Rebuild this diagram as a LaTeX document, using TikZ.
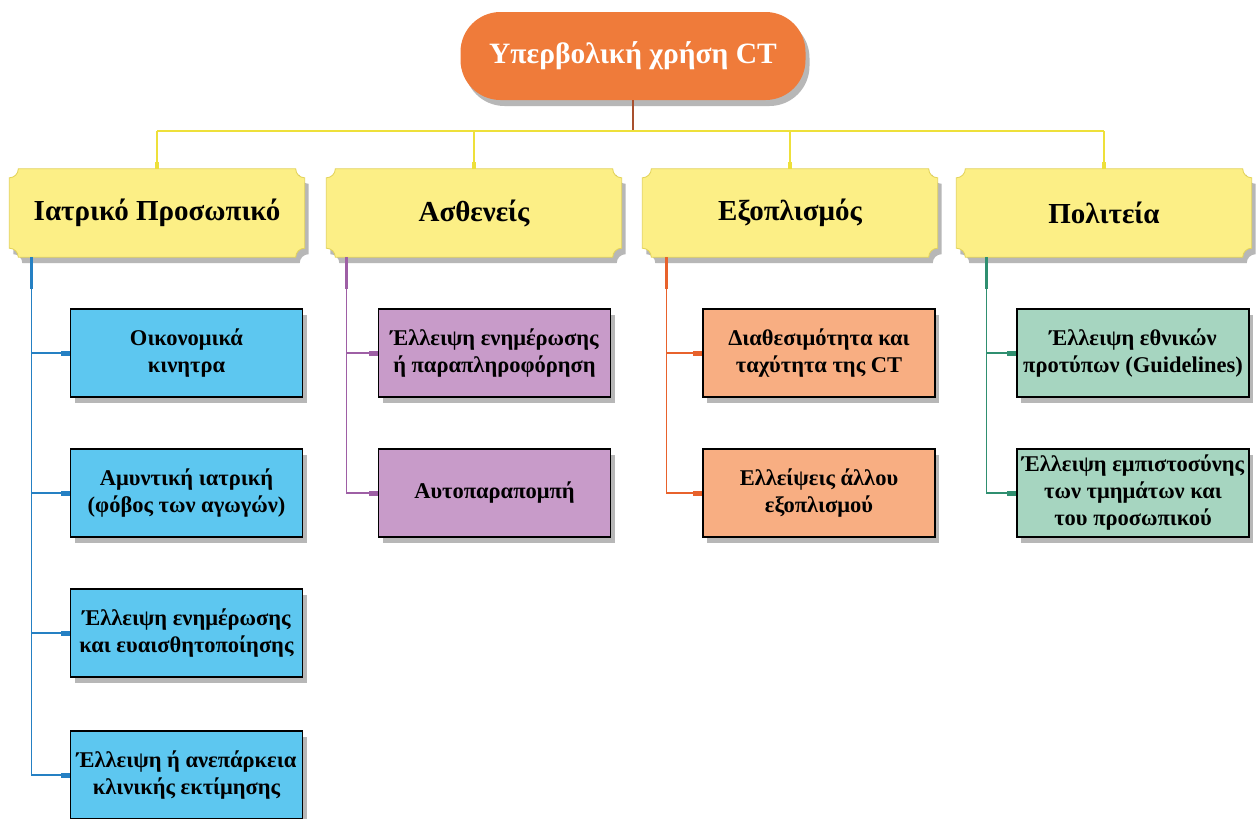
\documentclass[tikz,border=0pt]{standalone}
\usepackage{fontspec}
\setmainfont{Liberation Serif}
\usetikzlibrary{shadows,backgrounds,calc,arrows.meta}
\definecolor{topc}{HTML}{EF7B3A}
\definecolor{hdrc}{HTML}{FCEF86}
\definecolor{hdrb}{HTML}{E3D35A}
\definecolor{busc}{HTML}{EEE03A}
\definecolor{bluec}{HTML}{5DC7F0}
\definecolor{purc}{HTML}{C89BC9}
\definecolor{orc}{HTML}{F8AE82}
\definecolor{grc}{HTML}{A6D5C0}
\definecolor{bll}{HTML}{2580C3}
\definecolor{purl}{HTML}{9E5FA5}
\definecolor{orl}{HTML}{E8622C}
\definecolor{grl}{HTML}{2F8F70}
\definecolor{stemc}{HTML}{A8502E}
\newcommand\hdrshape[1]{%
  \begin{scope}[on background layer]
  \path[fill=hdrc, draw=hdrb, line width=0.8pt, shadowed]
    let \p1=(#1.south west), \p2=(#1.north east) in
    (\x1+9pt,\y2) -- (\x2-9pt,\y2) arc[start angle=180,end angle=270,radius=9pt]
    -- (\x2,\y1+9pt) arc[start angle=90,end angle=180,radius=9pt]
    -- (\x1+9pt,\y1) arc[start angle=0,end angle=90,radius=9pt]
    -- (\x1,\y2-9pt) arc[start angle=270,end angle=360,radius=9pt] -- cycle;
  \end{scope}}
\begin{document}
\begin{tikzpicture}[x=1pt,y=1pt,
  shadowed/.style={drop shadow={shadow xshift=4pt,shadow yshift=-6pt,opacity=0.4,fill=black!70}},
  topbox/.style={fill=topc, rounded corners=40pt, minimum width=345pt, minimum height=88pt,
    text=white, font=\bfseries\fontsize{29.5}{32}\selectfont, shadowed},
  hdr/.style={minimum width=295pt, minimum height=88pt, inner sep=0pt,
    font=\bfseries\fontsize{29}{32}\selectfont},
  child/.style={draw=black, line width=1.6pt, minimum width=232pt, minimum height=88pt,
    align=center, inner sep=2pt, font=\bfseries\fontsize{22.5}{27}\selectfont, shadowed},
  busline/.style={draw=busc, line width=2.5pt},
  stem/.style={draw=stemc, line width=2.2pt},
  link/.style={line width=1.6pt},
  tab/.style={-{Rectangle[length=9pt,width=5pt]}},
]
\useasboundingbox (0,0) rectangle (1256,-819);
\begin{scope}[on background layer]
\fill[white] (0,0) rectangle (1256,-819);
\end{scope}

% top node
\node[topbox] (top) at (633,-56) {Υπερβολική χρήση CT};

% headers
\node[hdr] (h1) at (157,-213) {Ιατρικό Προσωπικό};
\node[hdr] (h2) at (474,-213) {Ασθενείς};
\node[hdr] (h3) at (790,-213) {Εξοπλισμός};
\node[hdr] (h4) at (1104,-213) {Πολιτεία};
\hdrshape{h1}\hdrshape{h2}\hdrshape{h3}\hdrshape{h4}

% bus
\coordinate (busy) at (0,-131);
\draw[stem] (top.south) -- (top.south |- busy);
\draw[busline] (h1.north |- busy) -- (h4.north |- busy);
\foreach \h in {h1,h2,h3,h4}{
  \draw[busline,-{Rectangle[length=7pt,width=4pt]}] (\h.north |- busy) -- (\h.north);
}

% children
\node[child, fill=bluec] (c11) at (186.5,-353) {Οικονομικά\\κινητρα};
\node[child, fill=bluec] (c12) at (186.5,-493) {Αμυντική ιατρική\\(φόβος των αγωγών)};
\node[child, fill=bluec] (c13) at (186.5,-633) {Έλλειψη ενημέρωσης\\και ευαισθητοποίησης};
\node[child, fill=bluec] (c14) at (186.5,-775) {Έλλειψη ή ανεπάρκεια\\κλινικής εκτίμησης};

\node[child, fill=purc] (c21) at (494.5,-353) {Έλλειψη ενημέρωσης\\ή παραπληροφόρηση};
\node[child, fill=purc] (c22) at (494.5,-493) {Αυτοπαραπομπή};

\node[child, fill=orc] (c31) at (819,-353) {Διαθεσιμότητα και\\ταχύτητα της CT};
\node[child, fill=orc] (c32) at (819,-493) {Ελλείψεις άλλου\\εξοπλισμού};

\node[child, fill=grc] (c41) at (1133,-353) {Έλλειψη εθνικών\\προτύπων (Guidelines)};
\node[child, fill=grc] (c42) at (1133,-493) {Έλλειψη εμπιστοσύνης\\των τμημάτων και\\του προσωπικού};

% vertical lines
\coordinate (v1) at ($(h1.south west)+(22,0)$);
\coordinate (v2) at ($(h2.south west)+(20,0)$);
\coordinate (v3) at ($(h3.south west)+(24,0)$);
\coordinate (v4) at ($(h4.south west)+(30,0)$);

\draw[link, bll] (v1) -- (v1 |- c14.west);
\draw[bll, line width=3pt] (v1) -- ++(0,-32);
\foreach \c in {c11,c12,c13,c14}{\draw[link,bll,tab] (v1 |- \c.west) -- (\c.west);}

\draw[link, purl] (v2) -- (v2 |- c22.west);
\draw[purl, line width=3pt] (v2) -- ++(0,-32);
\foreach \c in {c21,c22}{\draw[link,purl,tab] (v2 |- \c.west) -- (\c.west);}

\draw[link, orl] (v3) -- (v3 |- c32.west);
\draw[orl, line width=3pt] (v3) -- ++(0,-32);
\foreach \c in {c31,c32}{\draw[link,orl,tab] (v3 |- \c.west) -- (\c.west);}

\draw[link, grl] (v4) -- (v4 |- c42.west);
\draw[grl, line width=3pt] (v4) -- ++(0,-32);
\foreach \c in {c41,c42}{\draw[link,grl,tab] (v4 |- \c.west) -- (\c.west);}
\end{tikzpicture}
\end{document}
